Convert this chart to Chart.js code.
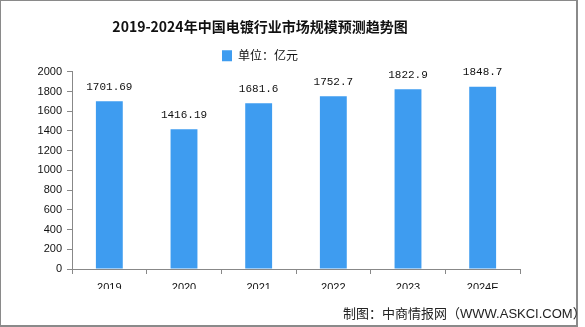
<!DOCTYPE html>
<html>
<head>
<meta charset="utf-8">
<script src="https://cdn.jsdelivr.net/npm/chart.js@4.4.0/dist/chart.umd.min.js"></script>
<style>
  html, body { margin: 0; padding: 0; background: #fff; }
  #wrap { position: relative; width: 585px; height: 327px; }
  #frame { position: absolute; left: 0; top: 0; width: 575px; height: 324px; border: 1px solid #8a8a8a; border-width: 1px 2px 2px 1px; pointer-events: none; }
  #source { position: absolute; left: 343px; top: 303px; font: 13px "Noto Sans CJK SC", sans-serif; color: #222; white-space: nowrap; }
  #source span { font-family: "Liberation Sans", sans-serif; }
</style>
</head>
<body>
<div id="wrap">
  <canvas id="mycanvas" width="585" height="327"></canvas>
  <div id="frame"></div>
  <div id="source">制图：中商情报网（<span>WWW.ASKCI.COM</span>）</div>
</div>
<script>
var years = ['2019', '2020', '2021', '2022', '2023', '2024E']
var marketSize = [1701.69, 1416.19, 1681.6, 1752.7, 1822.9, 1848.7]
var valueText = ['1701.69', '1416.19', '1681.6', '1752.7', '1822.9', '1848.7']

// numbers above the bars
var barLabels = {
    id: 'barLabels',
    afterDatasetsDraw: function(chart){
        var ctx = chart.ctx
        var meta = chart.getDatasetMeta(0)
        ctx.save()
        ctx.font = '11px "Liberation Mono", monospace'
        ctx.fillStyle = '#111'
        ctx.textAlign = 'center'
        ctx.textBaseline = 'bottom'
        meta.data.forEach(function(bar, i){
            ctx.fillText(valueText[i], bar.x, bar.y - 9)
        })
        ctx.restore()
    }
}

var context = document.getElementById('mycanvas').getContext('2d')
new Chart(context, {
    type: 'bar',
    data: {
        labels: years,
        datasets: [{
            label: '单位：亿元',
            data: marketSize,
            backgroundColor: '#3e9cf0',
            borderWidth: 0,
            categoryPercentage: 0.36,
            barPercentage: 1.0
        }]
    },
    options: {
        responsive: false,
        animation: false,
        layout: { padding: { left: 0, right: 65, top: 0, bottom: 38 } },
        plugins: {
            title: {
                display: true,
                text: '2019-2024年中国电镀行业市场规模预测趋势图',
                color: '#111',
                font: { family: '"Noto Sans CJK SC", sans-serif', size: 14, weight: 'bold' },
                padding: { top: 18, bottom: 10 }
            },
            legend: {
                display: true,
                labels: {
                    color: '#111',
                    font: { family: '"Noto Sans CJK SC", sans-serif', size: 12 },
                    boxWidth: 10,
                    boxHeight: 11,
                    padding: 5
                }
            },
            tooltip: { enabled: false }
        },
        scales: {
            x: {
                grid: { display: true, drawOnChartArea: false, offset: true, color: '#888', tickLength: 5 },
                border: { color: '#888' },
                ticks: { color: '#111', font: { family: '"Liberation Sans", sans-serif', size: 11 }, padding: 7 },
                afterFit: function(scale){ scale.height = 20 }
            },
            y: {
                min: 0,
                max: 2000,
                grid: { display: true, drawOnChartArea: false, color: '#888', tickLength: 5 },
                border: { color: '#888' },
                ticks: {
                    stepSize: 200,
                    color: '#111',
                    font: { family: '"Liberation Sans", sans-serif', size: 11 },
                    padding: 5,
                    callback: function(v){ return String(v) }
                },
                afterFit: function(scale){ scale.width = 72 }
            }
        }
    },
    plugins: [barLabels]
})
</script>
</body>
</html>
